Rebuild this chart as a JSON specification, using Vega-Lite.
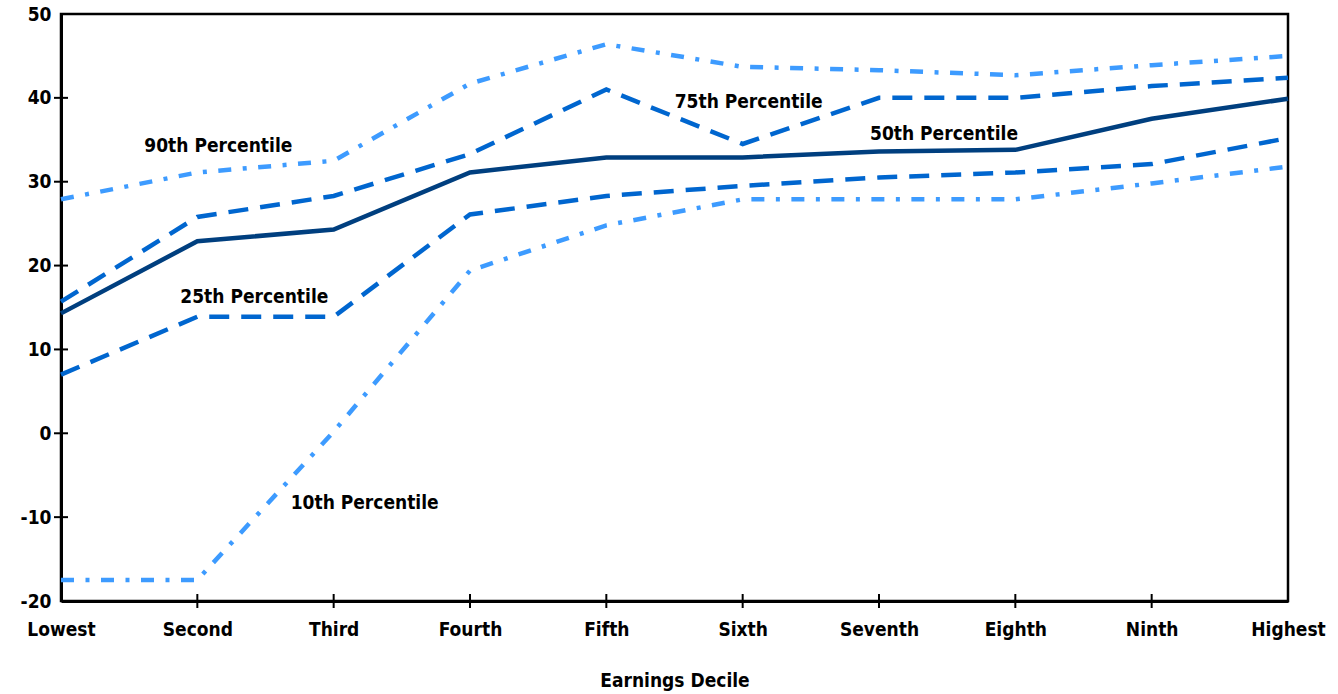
{
  "$schema": "https://vega.github.io/schema/vega-lite/v6.json",
  "width": 1227,
  "height": 587,
  "autosize": {"type": "none"},
  "padding": {"left": 61, "top": 14, "right": 50, "bottom": 93},
  "background": "white",
  "config": {
    "view": {"stroke": "black", "strokeWidth": 2.5},
    "font": "DejaVu Sans Condensed, Liberation Sans, sans-serif"
  },
  "datasets": {
    "lines": [
      {"decile": "Lowest", "pct": "50th", "value": 14.3},
      {"decile": "Second", "pct": "50th", "value": 22.9},
      {"decile": "Third", "pct": "50th", "value": 24.3},
      {"decile": "Fourth", "pct": "50th", "value": 31.1},
      {"decile": "Fifth", "pct": "50th", "value": 32.9},
      {"decile": "Sixth", "pct": "50th", "value": 32.9},
      {"decile": "Seventh", "pct": "50th", "value": 33.6},
      {"decile": "Eighth", "pct": "50th", "value": 33.8},
      {"decile": "Ninth", "pct": "50th", "value": 37.5},
      {"decile": "Highest", "pct": "50th", "value": 39.9},
      {"decile": "Lowest", "pct": "75th", "value": 15.7},
      {"decile": "Second", "pct": "75th", "value": 25.8},
      {"decile": "Third", "pct": "75th", "value": 28.3},
      {"decile": "Fourth", "pct": "75th", "value": 33.3},
      {"decile": "Fifth", "pct": "75th", "value": 41.0},
      {"decile": "Sixth", "pct": "75th", "value": 34.5},
      {"decile": "Seventh", "pct": "75th", "value": 40.0},
      {"decile": "Eighth", "pct": "75th", "value": 40.0},
      {"decile": "Ninth", "pct": "75th", "value": 41.4},
      {"decile": "Highest", "pct": "75th", "value": 42.4},
      {"decile": "Lowest", "pct": "25th", "value": 7.0},
      {"decile": "Second", "pct": "25th", "value": 13.9},
      {"decile": "Third", "pct": "25th", "value": 13.9},
      {"decile": "Fourth", "pct": "25th", "value": 26.1},
      {"decile": "Fifth", "pct": "25th", "value": 28.3},
      {"decile": "Sixth", "pct": "25th", "value": 29.5},
      {"decile": "Seventh", "pct": "25th", "value": 30.5},
      {"decile": "Eighth", "pct": "25th", "value": 31.1},
      {"decile": "Ninth", "pct": "25th", "value": 32.1},
      {"decile": "Highest", "pct": "25th", "value": 35.2},
      {"decile": "Lowest", "pct": "90th", "value": 27.9},
      {"decile": "Second", "pct": "90th", "value": 31.1},
      {"decile": "Third", "pct": "90th", "value": 32.5},
      {"decile": "Fourth", "pct": "90th", "value": 41.7},
      {"decile": "Fifth", "pct": "90th", "value": 46.4},
      {"decile": "Sixth", "pct": "90th", "value": 43.7},
      {"decile": "Seventh", "pct": "90th", "value": 43.3},
      {"decile": "Eighth", "pct": "90th", "value": 42.7},
      {"decile": "Ninth", "pct": "90th", "value": 43.9},
      {"decile": "Highest", "pct": "90th", "value": 45.0},
      {"decile": "Lowest", "pct": "10th", "value": -17.5},
      {"decile": "Second", "pct": "10th", "value": -17.5},
      {"decile": "Third", "pct": "10th", "value": 0.2},
      {"decile": "Fourth", "pct": "10th", "value": 19.4},
      {"decile": "Fifth", "pct": "10th", "value": 24.8},
      {"decile": "Sixth", "pct": "10th", "value": 27.9},
      {"decile": "Seventh", "pct": "10th", "value": 27.9},
      {"decile": "Eighth", "pct": "10th", "value": 27.9},
      {"decile": "Ninth", "pct": "10th", "value": 29.8},
      {"decile": "Highest", "pct": "10th", "value": 31.8}
    ],
    "yticks": [
      {"value": -10}, {"value": 0}, {"value": 10}, {"value": 20}, {"value": 30}, {"value": 40}
    ]
  },
  "encoding": {
    "x": {
      "field": "decile",
      "type": "ordinal",
      "sort": ["Lowest", "Second", "Third", "Fourth", "Fifth", "Sixth", "Seventh", "Eighth", "Ninth", "Highest"],
      "scale": {"type": "point", "padding": 0},
      "axis": {
        "title": "Earnings Decile",
        "titleFont": "DejaVu Sans Condensed, Liberation Sans, sans-serif",
        "titleFontSize": 19,
        "titleFontWeight": "bold",
        "titleColor": "black",
        "titlePadding": 32,
        "labelFont": "DejaVu Sans Condensed, Liberation Sans, sans-serif",
        "labelFontSize": 19,
        "labelFontWeight": "bold",
        "labelColor": "black",
        "labelAngle": 0,
        "labelPadding": 19,
        "ticks": false,
        "domainColor": "black",
        "domainWidth": 3,
        "grid": false
      }
    },
    "y": {
      "field": "value",
      "type": "quantitative",
      "scale": {"domain": [-20, 50], "nice": false, "zero": false},
      "axis": {
        "title": null,
        "values": [-20, -10, 0, 10, 20, 30, 40, 50],
        "labelExpr": "'' + datum.value",
        "labelFont": "DejaVu Sans Condensed, Liberation Sans, sans-serif",
        "labelFontSize": 19,
        "labelFontWeight": "bold",
        "labelColor": "black",
        "labelPadding": 10,
        "ticks": false,
        "domainColor": "black",
        "domainWidth": 3,
        "grid": false
      }
    }
  },
  "layer": [
    {
      "mark": {"type": "rule", "color": "black", "strokeWidth": 1.5, "strokeDash": [2, 3]},
      "encoding": {"y": {"datum": 0}, "x": null}
    },
    {
      "data": {"name": "yticks"},
      "mark": {"type": "tick", "orient": "horizontal", "color": "black", "opacity": 1, "size": 14, "thickness": 2},
      "encoding": {"x": {"datum": "Lowest"}, "y": {"field": "value", "type": "quantitative"}}
    },
    {
      "data": {"name": "lines"},
      "transform": [{"filter": "datum.pct === '50th' && datum.decile !== 'Lowest' && datum.decile !== 'Highest'"}],
      "mark": {"type": "tick", "orient": "vertical", "color": "black", "opacity": 1, "size": 14, "thickness": 2},
      "encoding": {"y": {"datum": -20}}
    },
    {
      "data": {"name": "lines"},
      "transform": [{"filter": "datum.pct === '90th' || datum.pct === '10th'"}],
      "mark": {"type": "line", "color": "#3d9bff", "strokeWidth": 4.5, "strokeDash": [13, 11.5, 4, 11.5]},
      "encoding": {"detail": {"field": "pct"}}
    },
    {
      "data": {"name": "lines"},
      "transform": [{"filter": "datum.pct === '75th' || datum.pct === '25th'"}],
      "mark": {"type": "line", "color": "#0066cf", "strokeWidth": 4.5, "strokeDash": [20, 12]},
      "encoding": {"detail": {"field": "pct"}}
    },
    {
      "data": {"name": "lines"},
      "transform": [{"filter": "datum.pct === '50th'"}],
      "mark": {"type": "line", "color": "#003f7f", "strokeWidth": 4.5},
      "encoding": {"detail": {"field": "pct"}}
    },
    {
      "data": {"values": [{"decile": "Second", "value": 34.3, "label": "90th Percentile"}]},
      "mark": {"type": "text", "fontSize": 19, "fontWeight": "bold", "color": "black", "dx": 21},
      "encoding": {"text": {"field": "label"}}
    },
    {
      "data": {"values": [{"decile": "Sixth", "value": 39.5, "label": "75th Percentile"}]},
      "mark": {"type": "text", "fontSize": 19, "fontWeight": "bold", "color": "black", "dx": 6},
      "encoding": {"text": {"field": "label"}}
    },
    {
      "data": {"values": [{"decile": "Seventh", "value": 35.7, "label": "50th Percentile"}]},
      "mark": {"type": "text", "fontSize": 19, "fontWeight": "bold", "color": "black", "dx": 65},
      "encoding": {"text": {"field": "label"}}
    },
    {
      "data": {"values": [{"decile": "Second", "value": 16.3, "label": "25th Percentile"}]},
      "mark": {"type": "text", "fontSize": 19, "fontWeight": "bold", "color": "black", "dx": 57},
      "encoding": {"text": {"field": "label"}}
    },
    {
      "data": {"values": [{"decile": "Third", "value": -8.3, "label": "10th Percentile"}]},
      "mark": {"type": "text", "fontSize": 19, "fontWeight": "bold", "color": "black", "dx": 31},
      "encoding": {"text": {"field": "label"}}
    }
  ]
}
